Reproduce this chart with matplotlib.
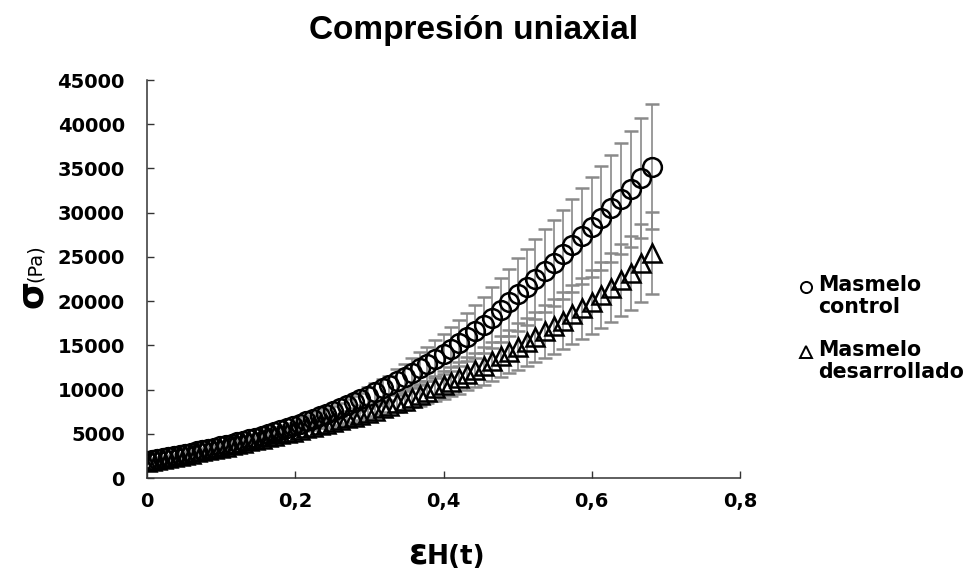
import matplotlib

matplotlib.use("Agg")
import matplotlib.pyplot as plt
from matplotlib.lines import Line2D

# Hencky strain of each reading
strain = [
    0.000, 0.007, 0.014, 0.022, 0.029, 0.036, 0.044, 0.051, 0.059, 0.067,
    0.074, 0.082, 0.090, 0.098, 0.106, 0.114, 0.122, 0.130, 0.138, 0.146,
    0.155, 0.163, 0.171, 0.180, 0.189, 0.197, 0.206, 0.215, 0.224, 0.233,
    0.242, 0.251, 0.260, 0.270, 0.279, 0.288, 0.298, 0.308, 0.318, 0.327,
    0.337, 0.348, 0.358, 0.368, 0.378, 0.389, 0.400, 0.410, 0.421, 0.432,
    0.443, 0.454, 0.465, 0.477, 0.489, 0.501, 0.512, 0.524, 0.537, 0.549,
    0.561, 0.574, 0.587, 0.600, 0.613, 0.626, 0.640, 0.653, 0.667, 0.681,
]

# stress (Pa), Masmelo control
control = [
    1900, 2012, 2124, 2252, 2364, 2476, 2604, 2718, 2862, 3006,
    3132, 3276, 3420, 3564, 3726, 3894, 4062, 4230, 4398, 4566,
    4780, 4988, 5196, 5430, 5664, 5872, 6136, 6415, 6694, 6973,
    7252, 7538, 7880, 8260, 8602, 8944, 9324, 9736, 10156, 10534,
    10954, 11416, 11900, 12400, 12900, 13450, 14000, 14600, 15260, 15920,
    16580, 17296, 18110, 19000, 19886, 20774, 21588, 22476, 23438, 24326,
    25280, 26320, 27360, 28400, 29440, 30480, 31600, 32670, 33930, 35200,
]
control_sd = [
    95, 101, 106, 113, 118, 124, 130, 136, 143, 150,
    157, 164, 171, 178, 186, 195, 203, 212, 220, 228,
    287, 299, 312, 326, 340, 352, 430, 449, 469, 488,
    580, 603, 630, 661, 688, 716, 932, 974, 1016, 1053,
    1314, 1484, 1666, 1860, 1935, 2152, 2240, 2482, 2594, 2706,
    2984, 3113, 3441, 3610, 3778, 4155, 4318, 4495, 4688, 4865,
    5056, 5264, 5472, 5680, 5888, 6096, 6320, 6534, 6786, 7040,
]

# stress (Pa), Masmelo desarrollado
desarrollado = [
    1800, 1912, 2024, 2152, 2264, 2376, 2504, 2617, 2753, 2889,
    3008, 3144, 3280, 3416, 3558, 3702, 3846, 3990, 4134, 4278,
    4445, 4597, 4749, 4920, 5091, 5243, 5420, 5600, 5780, 5960,
    6140, 6322, 6520, 6740, 6938, 7136, 7356, 7624, 7904, 8156,
    8436, 8744, 9072, 9412, 9752, 10126, 10500, 10900, 11340, 11780,
    12220, 12684, 13190, 13742, 14294, 14848, 15376, 15952, 16576, 17152,
    17794, 18496, 19198, 19900, 20706, 21512, 22380, 23232, 24316, 25400,
]
desarrollado_sd = [
    90, 96, 101, 108, 113, 119, 125, 131, 138, 144,
    150, 157, 164, 171, 178, 185, 192, 200, 207, 214,
    267, 276, 285, 295, 305, 315, 325, 336, 347, 358,
    491, 506, 522, 539, 555, 571, 588, 610, 632, 652,
    928, 1049, 1089, 1224, 1268, 1418, 1575, 1635, 1814, 1885,
    1955, 2156, 2242, 2336, 2430, 2673, 2768, 2871, 2984, 3087,
    3203, 3329, 3456, 3582, 3727, 3872, 4028, 4182, 4377, 4650,
]

x_ticks = [0, 0.2, 0.4, 0.6, 0.8]
x_tick_labels = ["0", "0,2", "0,4", "0,6", "0,8"]
y_ticks = list(range(0, 45001, 5000))

W, H = 967, 575
fig = plt.figure(figsize=(W / 100, H / 100), dpi=100)
ax = fig.add_axes([147 / W, 1 - 478 / H, 593 / W, 398 / H])

err_style = dict(ecolor="#8a8a8a", elinewidth=1.2, capsize=5, capthick=1.2,
                 mfc="none", mec="black", ms=13.5, mew=1.8, ls="none")
ax.errorbar(strain, control, yerr=control_sd, fmt="o", **err_style)
ax.errorbar(strain, desarrollado, yerr=desarrollado_sd, fmt="^", **err_style)

ax.set_xlim(0, 0.8)
ax.set_ylim(0, 45000)
ax.set_xticks(x_ticks)
ax.set_xticklabels(x_tick_labels)
ax.set_yticks(y_ticks)
ax.set_yticklabels([str(v) for v in y_ticks])

for s in ("top", "right"):
    ax.spines[s].set_visible(False)
for s in ("left", "bottom"):
    ax.spines[s].set_linewidth(1.1)
    ax.spines[s].set_color("#333333")
ax.tick_params(axis="both", direction="in", length=5, width=1.0, color="#333333")
ax.tick_params(axis="y", pad=16)
ax.tick_params(axis="x", pad=10)
for lab in ax.get_xticklabels() + ax.get_yticklabels():
    lab.set_fontfamily("DejaVu Sans")
    lab.set_fontweight("bold")
    lab.set_fontsize(14)

# title
fig.text(474 / W, 1 - 31 / H, "Compresión uniaxial", ha="center", va="center",
         family="Liberation Sans", weight="bold", fontsize=24)

# y label: sigma (Pa)
fig.text(42 / W, 1 - 294 / H, "σ", rotation=90, rotation_mode="anchor",
         ha="center", va="baseline", family="DejaVu Sans", weight="bold", fontsize=26)
fig.text(41 / W, 1 - 263 / H, "(Pa)", rotation=90, rotation_mode="anchor",
         ha="center", va="baseline", family="DejaVu Sans", fontsize=14)

# x label: epsilon H(t)
fig.text(427 / W, 1 - 564 / H, "ε", ha="right", va="baseline",
         family="DejaVu Sans", weight="bold", fontsize=25)
fig.text(427 / W, 1 - 564 / H, "H(t)", ha="left", va="baseline",
         family="DejaVu Sans", weight="bold", fontsize=19)

# legend, drawn by hand so the marker sits on the first text line
legend_items = [("o", 287, "Masmelo\ncontrol"), ("^", 352, "Masmelo\ndesarrollado")]
for marker, ypix, label in legend_items:
    fig.add_artist(Line2D([806 / W], [1 - ypix / H], marker=marker, ms=8,
                          mfc="none", mec="black", mew=1.4, ls="none",
                          transform=fig.transFigure))
    fig.text(818 / W, 1 - (ypix - 12) / H, label, ha="left", va="top",
             family="DejaVu Sans", weight="bold", fontsize=14.8, linespacing=1.15)

fig.savefig("out.png", dpi=100)
plt.close(fig)
